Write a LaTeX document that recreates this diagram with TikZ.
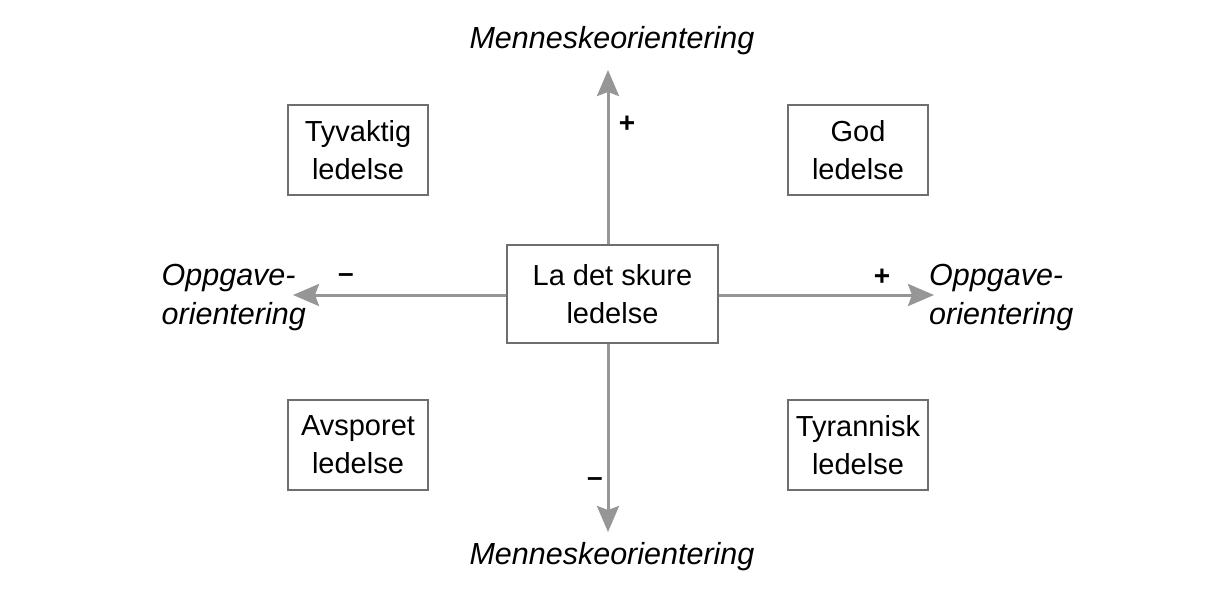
\documentclass[tikz,border=0pt]{standalone}
\usepackage{fontspec}
\setmainfont{Liberation Sans}
\usetikzlibrary{arrows.meta}
\definecolor{axisgray}{RGB}{150,150,150}
\definecolor{boxgray}{RGB}{110,110,110}
\begin{document}
\begin{tikzpicture}[x=1pt,y=-1pt,
  every node/.style={font=\fontsize{29}{38}\selectfont, inner sep=0pt},
  quadbox/.style={draw=boxgray, line width=1.3pt, minimum width=140pt, minimum height=90pt, align=center},
  centerbox/.style={draw=boxgray, line width=1.3pt, minimum width=211pt, minimum height=98pt, align=center},
  axislabel/.style={font=\itshape\fontsize{30.5}{39}\selectfont, align=left},
  axis/.style={draw=axisgray, line width=3pt, -{Stealth[length=26pt,width=22pt,inset=4pt]}},
  sign/.style={font=\bfseries\fontsize{28}{30}\selectfont}
]
\fill[white] (0,0) rectangle (1215,590);
\useasboundingbox (0,0) rectangle (1215,590);

\node[centerbox] (c) at (612.5,294) {La det skure\\ledelse};
\node[quadbox] (tv) at (358,150) {Tyvaktig\\ledelse};
\node[quadbox] (god) at (858,150) {God\\ledelse};
\node[quadbox] (av) at (358,445) {Avsporet\\ledelse};
\node[quadbox] (ty) at (858,445) {Tyrannisk\\ledelse};

\coordinate (tt) at (608,70);
\coordinate (bt) at (608,532);
\coordinate (lt) at (293,295);
\coordinate (rt) at (934,295);

\draw[axis] (c.north -| tt) -- (tt);
\draw[axis] (c.south -| bt) -- (bt);
\draw[axis] (c.west |- lt) -- (lt);
\draw[axis] (c.east |- rt) -- (rt);

\node[axislabel, anchor=center] (tl) at (612,41) {Menneskeorientering};
\node[axislabel, anchor=center] (bl) at (612,557) {Menneskeorientering};
\node[axislabel, anchor=east] (ll) at (306,298) {Oppgave-\\orientering};
\node[axislabel, anchor=west] (rl) at (929,298) {Oppgave-\\orientering};

\node[sign] (p1) at (627,124) {+};
\node[sign] (m1) at (346,278) {--};
\node[sign] (p2) at (882,277) {+};
\node[sign] (m2) at (595,482) {--};
\end{tikzpicture}
\end{document}
